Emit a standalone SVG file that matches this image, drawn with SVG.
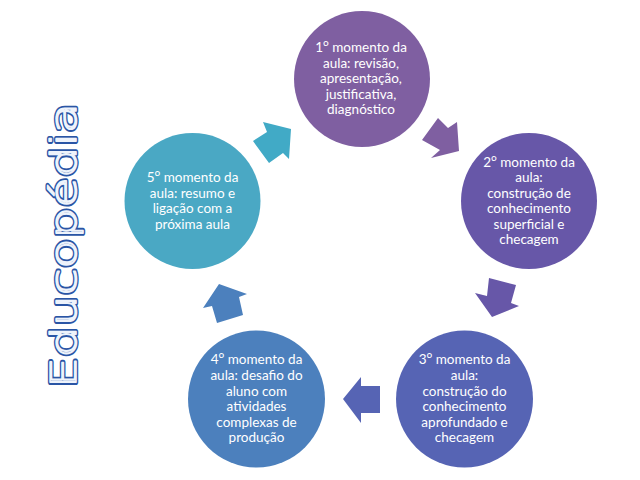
<svg xmlns="http://www.w3.org/2000/svg" width="640" height="480" viewBox="0 0 640 480">
<style>
.t{font-family:"Lato","Liberation Sans",sans-serif;font-size:13.5px;fill:#fff;text-anchor:middle}
.o{font-family:"Open Sans",sans-serif;font-size:15.5px}
.logo{font-family:"DejaVu Sans",sans-serif;font-weight:200;font-size:35px;fill:none;stroke-linejoin:round;stroke-linecap:round}
.c1{fill:#7f5fa1}.c2{fill:#6757a8}.c3{fill:#5664b4}.c4{fill:#4c80bd}.c5{fill:#4aa8c4}
.a5{fill:#41aac6}
</style>
<rect width="640" height="480" fill="#fff"/>
<g id="connectors">
<polygon class="c1" points="438,118 448,128 457,122 459,151 431,158 440,150 422,140"/>
<polygon class="c2" points="489,278 516,285 511,303 519,306 492,317 475,293 487,296"/>
<polygon class="c3" points="380,386 361,386 361,377 343,399 361,423 361,413 380,413"/>
<polygon class="c4" points="219,284 247,294 239,297 243,315 217,323 212,306 203,308"/>
<polygon class="a5" points="291,129 263,122 267,132 253,141 269,163 283,153 289,159"/>
</g>
<g id="node1"><circle class="c1" cx="362" cy="79" r="68"/>
<text class="t" x="361" y="52">1<tspan class="o">º</tspan> momento da</text><text class="t" x="361" y="68">aula: revisão,</text><text class="t" x="361" y="83">apresentação,</text><text class="t" x="361" y="99">justificativa,</text><text class="t" x="361" y="114">diagnóstico</text></g>
<g id="node2"><circle class="c2" cx="529" cy="201" r="68"/>
<text class="t" x="529" y="167">2<tspan class="o">º</tspan> momento da</text><text class="t" x="529" y="182">aula:</text><text class="t" x="529" y="198">construção de</text><text class="t" x="529" y="213">conhecimento</text><text class="t" x="529" y="229">superficial e</text><text class="t" x="529" y="244">checagem</text></g>
<g id="node3"><circle class="c3" cx="464.5" cy="399" r="68.5"/>
<text class="t" x="464.5" y="364">3<tspan class="o">º</tspan> momento da</text><text class="t" x="464.5" y="380">aula:</text><text class="t" x="464.5" y="396">construção do</text><text class="t" x="464.5" y="411">conhecimento</text><text class="t" x="464.5" y="427">aprofundado e</text><text class="t" x="464.5" y="442">checagem</text></g>
<g id="node4"><circle class="c4" cx="256.5" cy="399" r="68.5"/>
<text class="t" x="256.5" y="364">4<tspan class="o">º</tspan> momento da</text><text class="t" x="256.5" y="380">aula: desafio do</text><text class="t" x="256.5" y="396">aluno com</text><text class="t" x="256.5" y="411">atividades</text><text class="t" x="256.5" y="427">complexas de</text><text class="t" x="256.5" y="442">produção</text></g>
<g id="node5"><circle class="c5" cx="192.5" cy="201" r="68"/>
<text class="t" x="192.5" y="182">5<tspan class="o">º</tspan> momento da</text><text class="t" x="192.5" y="198">aula: resumo e</text><text class="t" x="192.5" y="213">ligação com a</text><text class="t" x="192.5" y="229">próxima aula</text></g>
<g id="logo" transform="translate(76,388) rotate(-90)">
<text class="logo" stroke="#2a55a5" stroke-width="4.2" textLength="285" lengthAdjust="spacingAndGlyphs">Educopédia</text>
<text class="logo" stroke="#eef3fb" stroke-width="1.5" textLength="285" lengthAdjust="spacingAndGlyphs">Educopédia</text>
</g>
</svg>
